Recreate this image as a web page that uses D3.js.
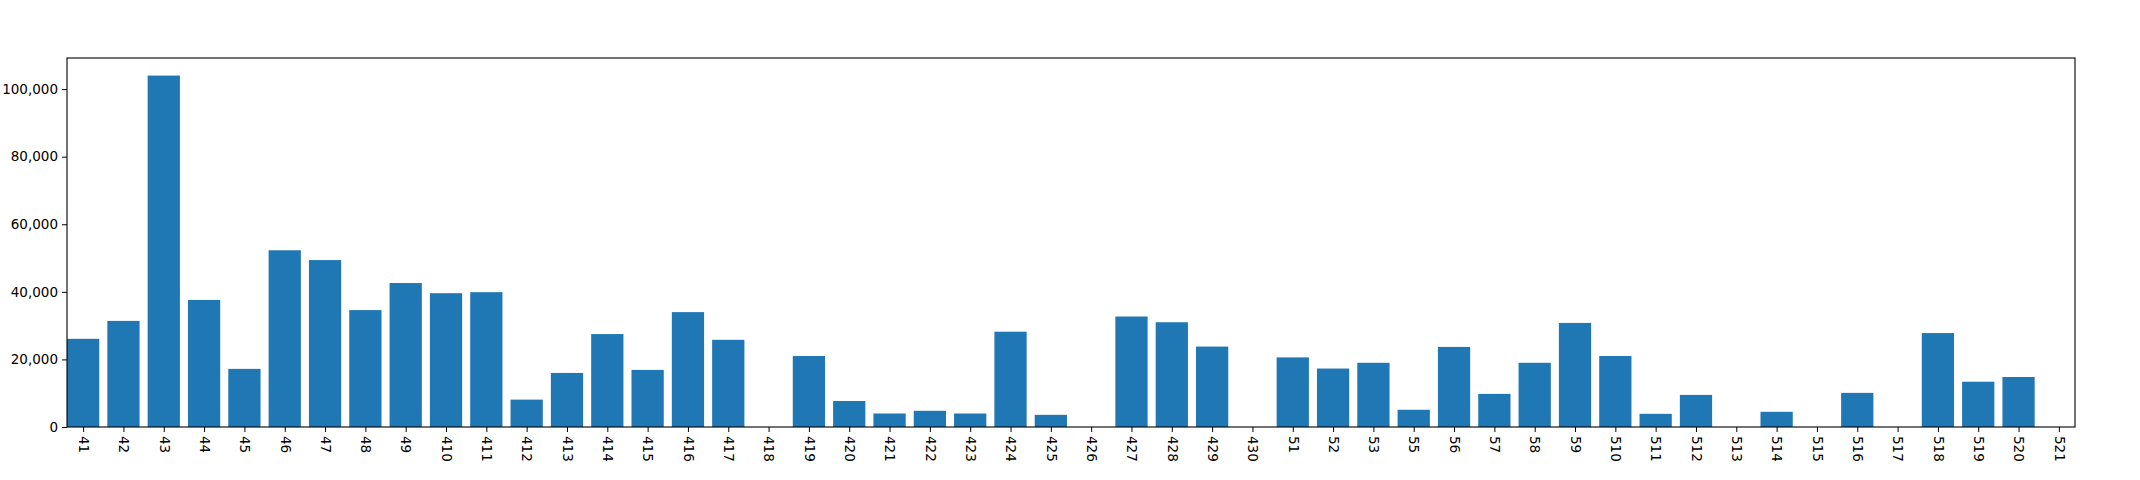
<!DOCTYPE html>
<html>
<head>
<meta charset="utf-8">
<script src="https://cdn.jsdelivr.net/npm/d3@7"></script>
<style>
  body { margin: 0; background: #fff; }
  text { font-family: "DejaVu Sans", sans-serif; }
</style>
</head>
<body>
<div id="chart"></div>
<script>
var categories = ["41","42","43","44","45","46","47","48","49","410","411","412","413","414","415","416","417","418","419","420",
  "421","422","423","424","425","426","427","428","429","430","51","52","53","55","56","57","58","59","510","511",
  "512","513","514","515","516","517","518","519","520","521"];
var values = [26100,31400,104000,37600,17200,52300,49400,34600,42600,39600,39900,8100,16000,27500,16900,34000,25800,0,21000,7700,
  4000,4800,4000,28200,3600,0,32700,31000,23800,0,20600,17300,19000,5100,23700,9800,19000,30800,21000,3900,
  9500,0,4500,0,10100,0,27800,13400,14800,0];
var yTicks = [0,20000,40000,60000,80000,100000];

var width = 2140, height = 480;
var padding = { left: 67, right: 65, top: 58, bottom: 53 };
var plotW = width - padding.left - padding.right;
var plotH = height - padding.top - padding.bottom;

var svg = d3.select("#chart").append("svg")
    .attr("width", width).attr("height", height);
var g = svg.append("g").attr("transform", "translate(" + padding.left + "," + padding.top + ")");

// matplotlib-like: xlim [-0.4, n-0.6], bar width 0.8
var n = categories.length;
var x = d3.scaleLinear().domain([-0.4, n - 0.6]).range([0, plotW]);
var y = d3.scaleLinear().domain([0, 109200]).range([plotH, 0]);

g.selectAll("rect.bar")
    .data(values)
    .enter().append("rect")
    .attr("class", "bar")
    .attr("x", function (d, i) { return x(i - 0.4); })
    .attr("width", x(0.8) - x(0))
    .attr("y", function (d) { return y(d); })
    .attr("height", function (d) { return plotH - y(d); })
    .attr("fill", "#1f77b4");

var xAxis = d3.axisBottom(x)
    .tickValues(d3.range(n))
    .tickFormat(function (d) { return categories[d]; })
    .tickSize(5).tickPadding(4);
var gx = g.append("g").attr("transform", "translate(0," + plotH + ")").call(xAxis);
gx.select(".domain").remove();
gx.selectAll("text")
    .attr("font-size", 13.5)
    .attr("fill", "#000")
    .attr("transform", "rotate(90)")
    .attr("x", 9).attr("y", 0).attr("dy", "0.35em")
    .style("text-anchor", "start");

var yAxis = d3.axisLeft(y).tickValues(yTicks).tickSize(5).tickPadding(4);
var gy = g.append("g").call(yAxis);
gy.select(".domain").remove();
gy.selectAll("text").attr("font-size", 13.5).attr("fill", "#000");

g.append("rect")
    .attr("width", plotW).attr("height", plotH)
    .attr("fill", "none").attr("stroke", "#000").attr("stroke-width", 1.1);
</script>
</body>
</html>
